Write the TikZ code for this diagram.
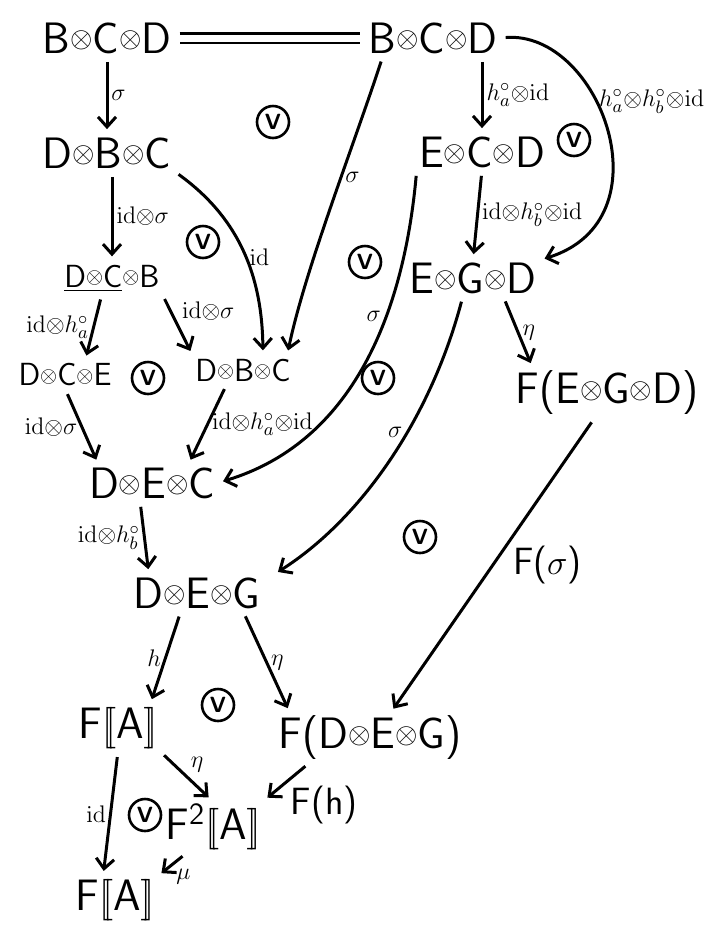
\documentclass[tikz,border=0pt]{standalone}
\usepackage{tikz}
\usetikzlibrary{arrows.meta, calc}

\newcommand{\tens}{\raisebox{.12em}{$\scriptstyle\otimes$}}
\newcommand{\sem}[1]{$[\![$#1$]\!]$}

\begin{document}
\begin{tikzpicture}[
            x=0.5pt, y=-0.5pt,
            obj/.style={
                    inner sep=1pt,
                    font=\sffamily\fontsize{22}{24}\selectfont
                },
            objs/.style={
                    inner sep=1pt,
                    font=\sffamily\fontsize{16}{18}\selectfont
                },
            lbl/.style={
                    inner sep=1.5pt,
                    font=\fontsize{13}{14}\selectfont
                },
            lblg/.style={
                    inner sep=1.5pt,
                    font=\sffamily\fontsize{19}{21}\selectfont
                },
            okmark/.style={
                    draw,
                    circle,
                    line width=1.3pt,
                    inner sep=0.5pt,
                    minimum size=16pt,
                    font=\sffamily\bfseries\fontsize{11}{12}\selectfont
                },
            pfeil/.style={
                    draw,
                    -{Straight Barb[length=5pt,width=9pt]},
                    line width=1.5pt,
                    shorten >=3pt,
                    shorten <=3pt
                },
            gleich/.style={
                    double,
                    double distance=3.5pt,
                    line width=1.2pt,
                    shorten >=3pt,
                    shorten <=3pt
                }
        ]

        \useasboundingbox (0,0) rectangle (713,928);

        \node[obj] (bcd) at (107,38) {B\tens C\tens D};
        \node[obj] (bcdr) at (433,38) {B\tens C\tens D};
        \node[obj] (dbc) at (107,153) {D\tens B\tens C};
        \node[obj] (ecd) at (482,152) {E\tens C\tens D};
        \node[objs] (dcb) at (112,278) {\underline{D\tens C}\tens B};
        \node[obj] (egd) at (473,278) {E\tens G\tens D};
        \node[objs] (dce) at (65,375) {D\tens C\tens E};
        \node[objs] (dbcs) at (243,370) {D\tens B\tens C};
        \node[obj] (fegd) at (607,393) {F(E\tens G\tens D)};
        \node[obj] (dec) at (152,483) {D\tens E\tens C};
        \node[obj] (deg) at (197,593) {D\tens E\tens G};
        \node[obj] (fa) at (118,728) {F\sem{A}};
        \node[obj] (fdeg) at (370,738) {F(D\tens E\tens G)};
        \node[obj] (ffa) at (213,827) {F\textsuperscript{2}\sem{A}};
        \node[obj] (fab) at (115,900) {F\sem{A}};

        \node[okmark] (ok1) at (273,122) {V};
        \node[okmark] (ok2) at (574,140) {V};
        \node[okmark] (ok3) at (203,242) {V};
        \node[okmark] (ok4) at (365,262) {V};
        \node[okmark] (ok5) at (148,378) {V};
        \node[okmark] (ok6) at (378,378) {V};
        \node[okmark] (ok7) at (420,537) {V};
        \node[okmark] (ok8) at (218,705) {V};
        \node[okmark] (ok9) at (145,815) {V};

        \draw[gleich] (bcd) -- (bcdr);
        \draw[pfeil] (bcd) -- (dbc) node[lbl, midway, right] {$\sigma$};
        \draw[pfeil] ([xshift=-25pt]bcdr.south) .. controls (352,150) and (305,270) .. ([xshift=-3pt]dbcs.north east) node[lbl, pos=0.4, right] {$\sigma$};
        \draw[pfeil] (bcdr.south -| ecd.north) -- (ecd.north) node[lbl, midway, right] {$h^{\circ}_{a}{\otimes}\mathrm{id}$};
        \draw[pfeil] (bcdr.east) .. controls (600,30) and (670,220) .. (egd.15) node[lbl, pos=0.4, right] {$h^{\circ}_{a}{\otimes}h^{\circ}_{b}{\otimes}\mathrm{id}$};
        \draw[pfeil] (dbc.south -| dcb.north) -- (dcb.north) node[lbl, midway, right] {$\mathrm{id}{\otimes}\sigma$};
        \draw[pfeil] (dbc.south east) .. controls (235,215) and (262,270) .. ([xshift=10pt]dbcs.north) node[lbl, pos=0.55, right] {$\mathrm{id}$};
        \draw[pfeil] (ecd.south) -- (egd.north) node[lbl, midway, right] {$\mathrm{id}{\otimes}h^{\circ}_{b}{\otimes}\mathrm{id}$};
        \draw[pfeil] (ecd.south west) .. controls (405,300) and (360,440) .. (dec.east) node[lbl, pos=0.38, left] {$\sigma$};
        \draw[pfeil] ([xshift=-5pt]dcb.south) -- ([xshift=10pt]dce.north) node[lbl, midway, left] {$\mathrm{id}{\otimes}h^{\circ}_{a}$};
        \draw[pfeil] (dcb.south east) -- (dbcs.north west) node[lbl, midway, above right] {$\mathrm{id}{\otimes}\sigma$};
        \draw[pfeil] (dce.south) -- ([xshift=6pt]dec.north west) node[lbl, midway, left] {$\mathrm{id}{\otimes}\sigma$};
        \draw[pfeil] ([xshift=-8pt]dbcs.south) -- ([xshift=18pt]dec.north) node[lbl, midway, right] {$\mathrm{id}{\otimes}h^{\circ}_{a}{\otimes}\mathrm{id}$};
        \draw[pfeil] ([xshift=-6pt]dec.south) -- ([xshift=-24pt]deg.north) node[lbl, midway, left] {$\mathrm{id}{\otimes}h^{\circ}_{b}$};
        \draw[pfeil] ([xshift=15pt]egd.south) -- ([xshift=-37pt]fegd.north) node[lbl, midway, right] {$\eta$};
        \draw[pfeil] ([xshift=-5pt]egd.south) .. controls (430,420) and (360,520) .. ([xshift=5pt]deg.north east) node[lbl, pos=0.4, left] {$\sigma$};
        \draw[pfeil] ([xshift=-6pt]fegd.south) -- ([xshift=10pt]fdeg.north) node[lblg, midway, right=8pt] {F($\sigma$)};
        \draw[pfeil] ([xshift=-8pt]deg.south) -- ([xshift=16pt]fa.north) node[lbl, midway, left] {$h$};
        \draw[pfeil] ([xshift=-10pt]deg.south east) -- ([xshift=7pt]fdeg.north west) node[lbl, midway, right] {$\eta$};
        \draw[pfeil] (fa.south east) -- (ffa.north) node[lbl, midway, above right] {$\eta$};
        \draw[pfeil] (fa.south) -- ([xshift=-6pt]fab.north) node[lbl, midway, left] {$\mathrm{id}$};
        \draw[pfeil] ([xshift=-30pt]fdeg.south) -- (ffa.north east) node[lblg, midway, below right] {F(h)};
        \draw[pfeil] ([xshift=12pt]ffa.south west) -- (fab.north east) node[lbl, midway, below right] {$\mu$};

    \end{tikzpicture}
\end{document}
